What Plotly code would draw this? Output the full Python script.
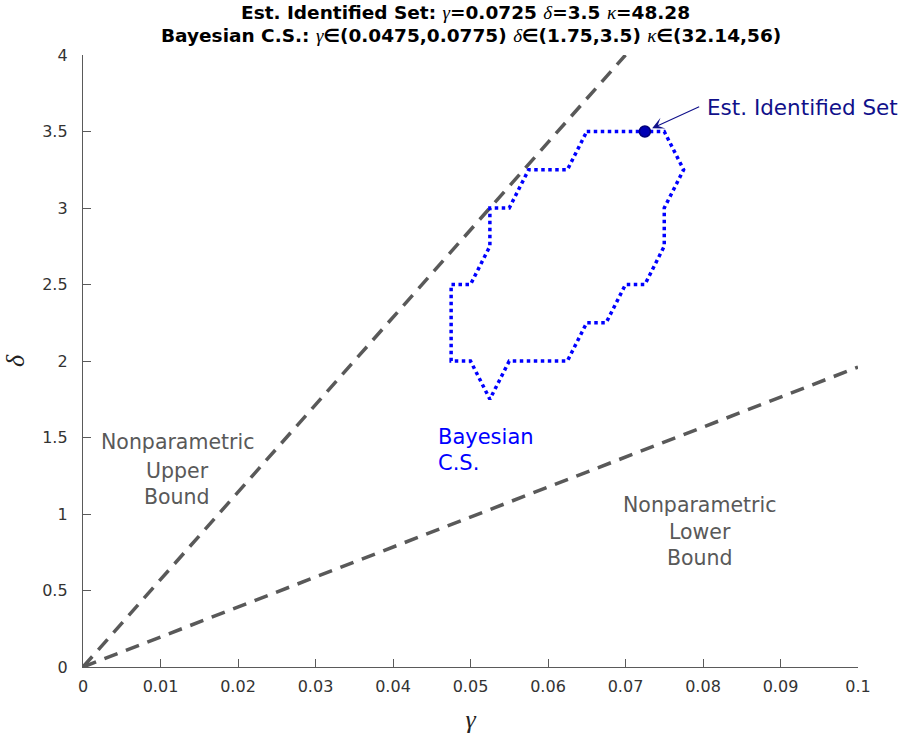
import plotly.graph_objects as go

# ---- data ----
cs_gamma = [0.065, 0.075, 0.0775, 0.075, 0.075, 0.0725, 0.07, 0.0675, 0.065, 0.0625,
            0.055, 0.0525, 0.05, 0.0475, 0.0475, 0.05, 0.0525, 0.0525, 0.055, 0.0575,
            0.0625, 0.065]
cs_delta = [3.5, 3.5, 3.25, 3.0, 2.75, 2.5, 2.5, 2.25, 2.25, 2.0,
            2.0, 1.75, 2.0, 2.0, 2.5, 2.5, 2.75, 3.0, 3.0, 3.25,
            3.25, 3.5]
est_gamma = [0.0725]
est_delta = [3.5]
ub_gamma = [0, 0.07]
ub_delta = [0, 4.0]
lb_gamma = [0, 0.1]
lb_delta = [0, 1.96]

x_ticks = [0, 0.01, 0.02, 0.03, 0.04, 0.05, 0.06, 0.07, 0.08, 0.09, 0.1]
x_labels = ["0", "0.01", "0.02", "0.03", "0.04", "0.05", "0.06", "0.07", "0.08", "0.09", "0.1"]
y_ticks = [0, 0.5, 1, 1.5, 2, 2.5, 3, 3.5, 4]
y_labels = ["0", "0.5", "1", "1.5", "2", "2.5", "3", "3.5", "4"]

FONT = "DejaVu Sans"
SERIF = "Liberation Serif"
GRAY = "#595959"
AXC = "#5a5a5a"


def g(s):
    return ('<span style="font-family:%s;font-weight:normal;font-style:italic;font-size:19px">%s</span>'
            % (SERIF, s))


title1 = "<b>Est. Identified Set: </b>" + g("γ") + "<b>=0.0725 </b>" + g("δ") + "<b>=3.5 </b>" + g("κ") + "<b>=48.28</b>"
title2 = ("<b>Bayesian C.S.: </b>" + g("γ") + "<b>∈(0.0475,0.0775) </b>" + g("δ")
          + "<b>∈(1.75,3.5) </b>" + g("κ") + "<b>∈(32.14,56)</b>")

fig = go.Figure()
fig.add_trace(go.Scatter(x=ub_gamma, y=ub_delta, mode="lines",
                         line=dict(color=GRAY, width=3.5, dash="14px,9px"), showlegend=False))
fig.add_trace(go.Scatter(x=lb_gamma, y=lb_delta, mode="lines",
                         line=dict(color=GRAY, width=3.5, dash="14px,9px"), showlegend=False))
fig.add_trace(go.Scatter(x=cs_gamma, y=cs_delta, mode="lines",
                         line=dict(color="#0000ff", width=3.5, dash="dot"), showlegend=False))
fig.add_trace(go.Scatter(x=est_gamma, y=est_delta, mode="markers",
                         marker=dict(color="#0000b4", size=11, line=dict(color="#00007a", width=1.5)),
                         showlegend=False))

ann = []
# title lines
ann.append(dict(text=title1, xref="paper", yref="paper", x=0.493, y=1.0, yshift=42.5,
                showarrow=False, font=dict(family=FONT, size=18.5, color="#000"),
                xanchor="center", yanchor="middle"))
ann.append(dict(text=title2, xref="paper", yref="paper", x=0.501, y=1.0, yshift=20,
                showarrow=False, font=dict(family=FONT, size=18.5, color="#000"),
                xanchor="center", yanchor="middle"))

# arrow to estimate
ann.append(dict(x=est_gamma[0], y=est_delta[0], ax=0.0797, ay=3.667, axref="x", ayref="y",
                xref="x", yref="y", text="", showarrow=True, arrowhead=3, arrowsize=1.8,
                arrowwidth=1.1, arrowcolor="#10108a", standoff=8))
ann.append(dict(x=0.0802, y=3.66, xref="x", yref="y", text="Est. Identified Set",
                showarrow=False, xanchor="left", yanchor="middle",
                font=dict(family=FONT, size=21.5, color="#10108a")))

for txt, yy in zip(["Nonparametric", "Upper", "Bound"], [1.472, 1.28, 1.112]):
    ann.append(dict(x=0.01216, y=yy, xref="x", yref="y", text=txt, showarrow=False,
                    xanchor="center", yanchor="middle", font=dict(family=FONT, size=20.5, color=GRAY)))
for txt, yy in zip(["Nonparametric", "Lower", "Bound"], [1.058, 0.883, 0.713]):
    ann.append(dict(x=0.07957, y=yy, xref="x", yref="y", text=txt, showarrow=False,
                    xanchor="center", yanchor="middle", font=dict(family=FONT, size=20.5, color=GRAY)))
for txt, yy in zip(["Bayesian", "C.S."], [1.504, 1.332]):
    ann.append(dict(x=0.0456, y=yy, xref="x", yref="y", text=txt, showarrow=False,
                    xanchor="left", yanchor="middle", font=dict(family=FONT, size=21, color="#0000ff")))

fig.update_layout(
    width=900, height=740,
    margin=dict(l=83, r=42, t=55, b=73),
    paper_bgcolor="white", plot_bgcolor="white",
    font=dict(family=FONT, size=16, color="#333333"),
    annotations=ann,
    showlegend=False,
)
fig.update_xaxes(range=[0, 0.1], tickvals=x_ticks, ticktext=x_labels, ticks="inside", ticklen=8,
                 tickcolor=AXC, showline=True, linecolor=AXC, linewidth=1.3, showgrid=False,
                 zeroline=False, tickfont=dict(family=FONT, size=16, color="#333"),
                 ticklabelstandoff=5, automargin=False,
                 title=dict(text="<i>γ</i>", font=dict(family=SERIF, size=26, color="#222"), standoff=14))
fig.update_yaxes(range=[0, 4], tickvals=y_ticks, ticktext=y_labels, ticks="inside", ticklen=8,
                 tickcolor=AXC, showline=True, linecolor=AXC, linewidth=1.3, showgrid=False,
                 zeroline=False, tickfont=dict(family=FONT, size=16, color="#333"),
                 ticklabelstandoff=11, automargin=False,
                 title=dict(text="<i>δ</i>", font=dict(family=SERIF, size=26, color="#222"), standoff=10))

fig.write_html("out.html", config={"displayModeBar": False},
               post_script="document.body.style.margin='0';")
